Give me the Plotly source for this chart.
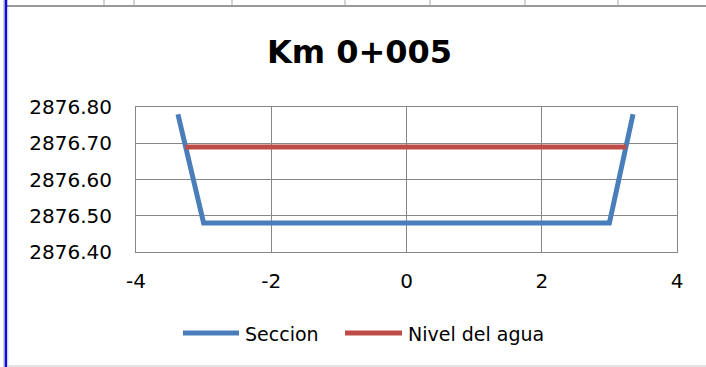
import plotly.graph_objects as go

# Cross-section profile and water level
seccion_x = [-3.38, -3.0, 3.0, 3.35]
seccion_y = [2876.78, 2876.48, 2876.48, 2876.78]
agua_x = [-3.27, 3.25]
agua_y = [2876.69, 2876.69]

series_names = ["Seccion", "Nivel del agua"]
series_colors = ["#4A7EBB", "#BE4B48"]

x_ticks = [-4, -2, 0, 2, 4]
y_ticks = [2876.40, 2876.50, 2876.60, 2876.70, 2876.80]

W, H = 706, 367
L, R, T, B = 136, 677, 107, 252  # plot area in pixels


def px(x):
    return (x - L) / (R - L)


def py(y):
    return (B - y) / (B - T)


fig = go.Figure()
fig.add_trace(go.Scatter(x=seccion_x, y=seccion_y, mode="lines", name=series_names[0],
                         line=dict(color=series_colors[0], width=5)))
fig.add_trace(go.Scatter(x=agua_x, y=agua_y, mode="lines", name=series_names[1],
                         line=dict(color=series_colors[1], width=5)))

shapes = []
# worksheet cell edges peeking above the chart frame
for cx in [104, 134, 232, 345, 430, 525, 618]:
    shapes.append(dict(type="line", xref="paper", yref="paper",
                       x0=px(cx), x1=px(cx), y0=py(0), y1=py(5),
                       line=dict(color="#D4D4D4", width=2)))
# chart frame
shapes.append(dict(type="line", xref="paper", yref="paper",
                   x0=px(7), x1=px(706), y0=py(6), y1=py(6),
                   line=dict(color="#9A9A9A", width=2)))
shapes.append(dict(type="line", xref="paper", yref="paper",
                   x0=px(4), x1=px(4), y0=py(0), y1=py(367),
                   line=dict(color="#CFCFCF", width=2)))
shapes.append(dict(type="line", xref="paper", yref="paper",
                   x0=px(6), x1=px(6), y0=py(0), y1=py(367),
                   line=dict(color="#0A0AE6", width=2.5)))
shapes.append(dict(type="line", xref="paper", yref="paper",
                   x0=px(8), x1=px(8), y0=py(7), y1=py(367),
                   line=dict(color="#E2E2E2", width=1)))
shapes.append(dict(type="line", xref="paper", yref="paper",
                   x0=px(8), x1=px(706), y0=py(366), y1=py(366),
                   line=dict(color="#E4E4E4", width=2)))

# legend
annotations = []
legend_items = [(183, 239, 243), (345, 402, 406)]
for (x0, x1, tx), name, color in zip(legend_items, series_names, series_colors):
    shapes.append(dict(type="line", xref="paper", yref="paper",
                       x0=px(x0), x1=px(x1), y0=py(333), y1=py(333),
                       line=dict(color=color, width=5)))
    annotations.append(dict(text=name, xref="paper", yref="paper",
                            x=px(tx), y=py(334), xanchor="left", yanchor="middle",
                            showarrow=False,
                            font=dict(family="DejaVu Sans", size=19, color="#000000")))

axis_common = dict(showgrid=True, gridcolor="#878787", gridwidth=1,
                   showline=True, linecolor="#878787", linewidth=1, mirror=True,
                   zeroline=False, ticks="",
                   tickfont=dict(family="DejaVu Sans", size=20, color="#000000"))

fig.update_layout(
    width=W, height=H,
    margin=dict(l=L, r=W - R, t=T, b=H - B),
    paper_bgcolor="white", plot_bgcolor="white",
    showlegend=False,
    title=dict(text="<b>Km 0+005</b>", xref="container", yref="container",
               x=359.5 / W, y=1 - 52 / H, xanchor="center", yanchor="middle",
               font=dict(family="DejaVu Sans", size=32, color="#000000")),
    xaxis=dict(range=[-4, 4], tickvals=x_ticks, ticktext=[str(v) for v in x_ticks],
               ticklabelstandoff=11, **axis_common),
    yaxis=dict(range=[2876.40, 2876.80], tickvals=y_ticks,
               ticktext=[f"{v:.2f}" for v in y_ticks],
               ticklabelstandoff=19, **axis_common),
    shapes=shapes,
    annotations=annotations,
)

fig.write_html("out.html")
